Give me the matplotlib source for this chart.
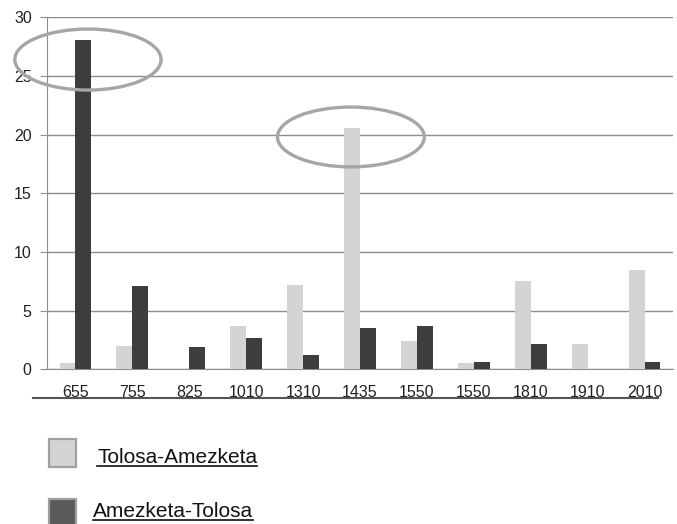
import matplotlib.pyplot as plt
from matplotlib.patches import Ellipse, Rectangle
from matplotlib.lines import Line2D
import numpy as np

plt.rcParams['font.family'] = ['Liberation Sans', 'DejaVu Sans']

# Data
stops = ['655', '755', '825', '1010', '1310', '1435', '1550', '1550', '1810', '1910', '2010']
tolosa_amezketa = [0.5, 1.95, 0.05, 3.7, 7.2, 20.55, 2.45, 0.5, 7.55, 2.15, 8.45]
amezketa_tolosa = [28.05, 7.1, 1.9, 2.65, 1.2, 3.5, 3.7, 0.6, 2.15, 0.05, 0.6]
series_names = ['Tolosa-Amezketa', 'Amezketa-Tolosa']

light = '#d4d4d4'
dark = '#3d3d3d'
grid_col = '#8e8e8e'
ring_col = '#a6a6a6'
tick_font = ['Liberation Sans Narrow', 'Liberation Sans', 'DejaVu Sans']

W, H = 677, 524
fig = plt.figure(figsize=(W / 100, H / 100), dpi=100)
ax = fig.add_axes([47 / W, 1 - 369.3 / H, 626 / W, 352 / H])

x = np.arange(len(stops))
bw = 0.28
ax.bar(x - bw / 2, tolosa_amezketa, width=bw, color=light, zorder=3)
ax.bar(x + bw / 2, amezketa_tolosa, width=bw, color=dark, zorder=3)

ax.set_xlim(-0.5, len(stops) - 0.5)
ax.set_ylim(0, 30)
ax.set_yticks(range(0, 31, 5))
ax.yaxis.grid(True, color=grid_col, linewidth=1)
ax.set_axisbelow(True)
ax.tick_params(axis='y', length=5, color=grid_col, labelcolor='#222222', pad=6)
ax.set_xticks(x, stops)
ax.tick_params(axis='x', length=0, labelcolor='#222222', pad=11)
for lab in ax.get_xticklabels() + ax.get_yticklabels():
    lab.set_fontfamily(tick_font)
    lab.set_fontsize(11.5)

for side in ['top', 'right']:
    ax.spines[side].set_visible(False)
ax.spines['left'].set_color(grid_col)
ax.spines['bottom'].set_color(grid_col)

# highlight rings around the two peaks
ax.add_patch(Ellipse((0.22, 26.4), 2.57, 5.2, fill=False, edgecolor=ring_col,
                     linewidth=2.4, clip_on=False, zorder=5))
ax.add_patch(Ellipse((4.84, 19.8), 2.58, 5.1, fill=False, edgecolor=ring_col,
                     linewidth=2.4, clip_on=False, zorder=5))

# rule under the category labels
fig.add_artist(Line2D([33 / W, 658 / W], [1 - 397.7 / H] * 2, color='#555555', linewidth=1.5))

# legend: swatches with underlined names
fig.canvas.draw()
renderer = fig.canvas.get_renderer()
entries = [(439, 463, 97, light, series_names[0]),
           (499, 517, 93, '#5a5a5a', series_names[1])]
for top, base, tx, col, name in entries:
    fig.add_artist(Rectangle((49 / W, 1 - (top + 28) / H), 27 / W, 28 / H,
                             facecolor=col, edgecolor='#a0a0a0', linewidth=1.6,
                             transform=fig.transFigure))
    t = fig.text(tx / W, 1 - base / H, name, fontsize=15, color='#111111',
                 va='baseline', ha='left')
    bb = t.get_window_extent(renderer)
    fig.add_artist(Line2D([bb.x0 / W, bb.x1 / W], [1 - (base + 3) / H] * 2,
                          color='#111111', linewidth=1.2))

fig.savefig('out.png', dpi=100)
